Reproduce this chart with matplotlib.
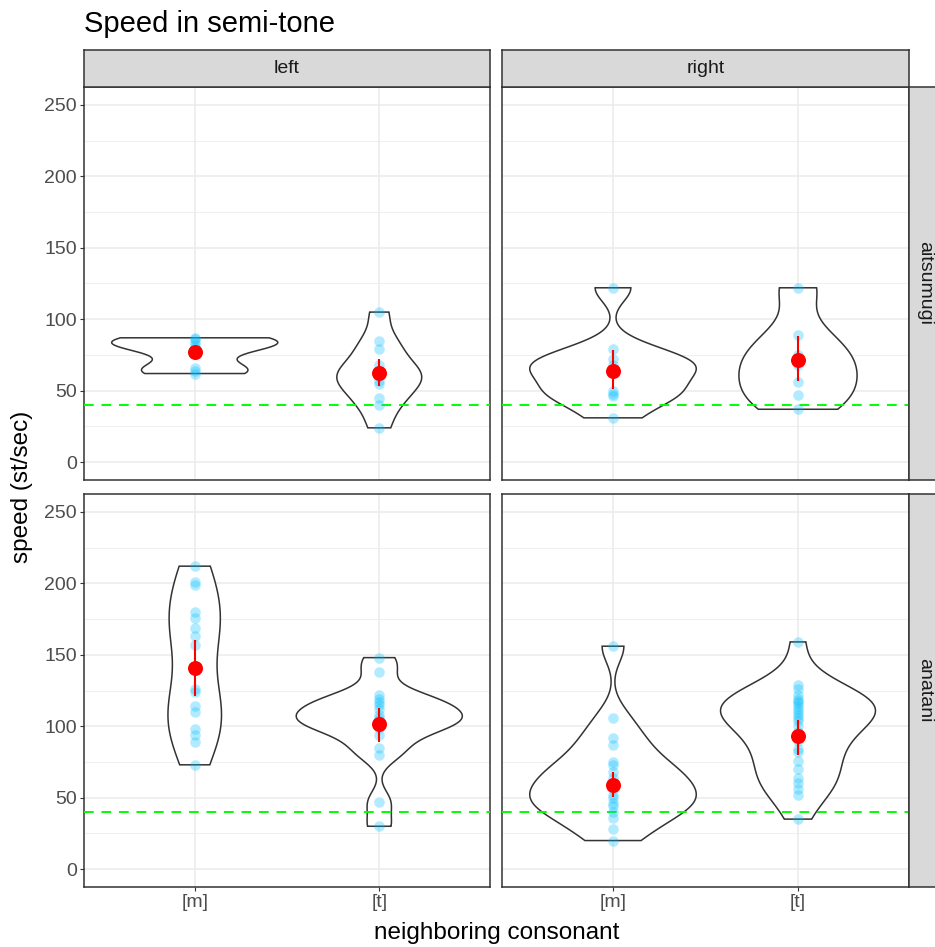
import numpy as np
import matplotlib
matplotlib.use("Agg")
import matplotlib.pyplot as plt

plt.rcParams["font.family"] = ["Liberation Sans", "DejaVu Sans"]

# ── Dati (st/sec) ─────────────────────────────────────────────────────────────
CONSONANTS = ["[m]", "[t]"]
SIDES = ["left", "right"]
WORDS = ["aitsumugi", "anatani"]

AITSUMUGI_LEFT_M  = [87, 86, 84, 82, 80, 66, 64, 62]
AITSUMUGI_LEFT_T  = [105, 85, 79, 68, 64, 60, 57, 55, 45, 40, 24]
AITSUMUGI_RIGHT_M = [122, 79, 72, 68, 65, 63, 50, 48, 46, 31]
AITSUMUGI_RIGHT_T = [122, 89, 75, 68, 56, 47, 37]
ANATANI_LEFT_M  = [212, 201, 199, 180, 176, 169, 163, 157, 126, 124, 114,
                   110, 98, 94, 89, 73]
ANATANI_LEFT_T  = [148, 138, 122, 119, 117, 115, 112, 108, 106, 104, 103,
                   101, 99, 94, 85, 80, 47, 30]
ANATANI_RIGHT_M = [156, 106, 92, 87, 75, 73, 68, 64, 60, 56, 52, 50, 46, 44,
                   40, 36, 28, 20]
ANATANI_RIGHT_T = [159, 129, 126, 122, 119, 118, 116, 114, 112, 110, 108, 106,
                   104, 100, 96, 90, 84, 82, 76, 70, 64, 60, 56, 52, 35]

# media e intervallo (punti rossi), ordine: left [m], left [t], right [m], right [t]
MEAN_AITSUMUGI = [76.8, 62.1, 63.9, 71.6]
LOW_AITSUMUGI  = [73.0, 53.5, 51.1, 57.0]
HIGH_AITSUMUGI = [81.0, 72.0, 78.6, 88.3]
MEAN_ANATANI = [140.7, 101.6, 58.8, 93.0]
LOW_ANATANI  = [120.9, 89.1, 50.7, 80.2]
HIGH_ANATANI = [160.5, 112.8, 67.9, 104.7]

THRESHOLD = 40

DATA = {
    ("aitsumugi", "left"):  [AITSUMUGI_LEFT_M, AITSUMUGI_LEFT_T],
    ("aitsumugi", "right"): [AITSUMUGI_RIGHT_M, AITSUMUGI_RIGHT_T],
    ("anatani", "left"):    [ANATANI_LEFT_M, ANATANI_LEFT_T],
    ("anatani", "right"):   [ANATANI_RIGHT_M, ANATANI_RIGHT_T],
}
SUMMARY = {
    "aitsumugi": (MEAN_AITSUMUGI, LOW_AITSUMUGI, HIGH_AITSUMUGI),
    "anatani":   (MEAN_ANATANI, LOW_ANATANI, HIGH_ANATANI),
}

# ── Stile ─────────────────────────────────────────────────────────────────────
C_BORDER = "#333333"
C_GRID   = "#EBEBEB"
C_STRIP  = "#D9D9D9"
C_TEXT   = "#4D4D4D"
C_POINT  = "#00BFFF"
FS_TICK  = 14
FS_AXIS  = 17.5
FS_TITLE = 21

W, H = 935, 947
COLS = [(84, 490), (502, 909)]
ROWS = [(87, 480), (494, 887)]
STRIP_R = 941


def rect(left, top, right, bottom):
    return [left / W, 1 - bottom / H, (right - left) / W, (bottom - top) / H]


def bw_nrd0(x):
    sd = x.std(ddof=1)
    q75, q25 = np.percentile(x, [75, 25])
    lo = min(sd, (q75 - q25) / 1.34)
    if lo == 0:
        lo = sd
    return 0.9 * lo * len(x) ** -0.2


def kde(x, grid):
    bw = bw_nrd0(x)
    z = (grid[:, None] - x[None, :]) / bw
    return np.exp(-0.5 * z ** 2).sum(axis=1) / (len(x) * bw * np.sqrt(2 * np.pi))


def strip(rect_px, label, rotation=0):
    sax = fig.add_axes(rect(*rect_px))
    sax.set_xticks([]); sax.set_yticks([])
    sax.set_facecolor(C_STRIP)
    for sp in sax.spines.values():
        sp.set_color(C_BORDER); sp.set_linewidth(1.1)
    left, top, right, bottom = rect_px
    # testo centrato sulla parte visibile
    xc = 0.5 if rotation == 0 else (925 - left) / (right - left)
    sax.text(xc, 0.5, label, ha="center", va="center", fontsize=FS_TICK,
             rotation=rotation, color="#1A1A1A", transform=sax.transAxes)


fig = plt.figure(figsize=(W / 100, H / 100), dpi=100, facecolor="white")

for r, word in enumerate(WORDS):
    means, lows, highs = SUMMARY[word]
    for c, side in enumerate(SIDES):
        (x0, x1), (y0, y1) = COLS[c], ROWS[r]
        ax = fig.add_axes(rect(x0, y0, x1, y1))
        ax.set_xlim(0.4, 2.6)
        ax.set_ylim(-12.5, 262.5)

        groups = [np.asarray(g, float) for g in DATA[(word, side)]]
        grids = [np.linspace(g.min(), g.max(), 512) for g in groups]
        dens = [kde(g, gr) for g, gr in zip(groups, grids)]
        dmax = max(d.max() for d in dens)

        for i, (g, gr, d) in enumerate(zip(groups, grids, dens)):
            pos = i + 1
            hw = d / dmax * 0.45
            xs = np.concatenate([pos - hw, (pos + hw)[::-1]])
            ys = np.concatenate([gr, gr[::-1]])
            ax.fill(xs, ys, facecolor="white", edgecolor=C_BORDER, lw=1.1, zorder=2)
            ax.scatter(np.full(len(g), pos), g, s=58, color=C_POINT, alpha=0.3,
                       linewidths=0, zorder=4)

        ax.axhline(THRESHOLD, color="#00FF00", lw=1.4, ls=(0, (5, 4)), zorder=3)

        idx = [2 * c, 2 * c + 1]
        pos = np.array([1, 2])
        ax.vlines(pos, [lows[k] for k in idx], [highs[k] for k in idx],
                  color="red", lw=1.5, zorder=5)
        ax.plot(pos, [means[k] for k in idx], "o", color="red", ms=10.8,
                mec="none", zorder=6)

        # griglia
        ax.set_yticks([0, 50, 100, 150, 200, 250])
        ax.set_yticks([25, 75, 125, 175, 225], minor=True)
        ax.set_xticks([1, 2])
        ax.set_axisbelow(True)
        ax.grid(which="major", color=C_GRID, lw=1.1)
        ax.grid(which="minor", axis="y", color=C_GRID, lw=0.55)
        for sp in ax.spines.values():
            sp.set_color(C_BORDER)
            sp.set_linewidth(1.1)

        ax.tick_params(which="minor", length=0)
        ax.tick_params(which="major", length=2.9, width=0.8, color=C_BORDER,
                       labelsize=FS_TICK, labelcolor=C_TEXT, pad=2.2)
        if c == 0:
            ax.set_yticklabels(["0", "50", "100", "150", "200", "250"])
        else:
            ax.tick_params(axis="y", length=0, labelleft=False)
        if r == 1:
            ax.set_xticklabels(CONSONANTS)
        else:
            ax.tick_params(axis="x", length=0, labelbottom=False)

        if r == 0:
            strip((x0, 50, x1, y0), side)
        if c == 1:
            strip((x1, y0, STRIP_R, y1), word, rotation=270)

fig.text(84 / W, 1 - 32 / H, "Speed in semi-tone", fontsize=FS_TITLE,
         ha="left", va="baseline", color="black")
fig.text(22 / W, 1 - 487 / H, "speed (st/sec)", fontsize=FS_AXIS, rotation=90,
         ha="center", va="center", color="black")
fig.text(497 / W, 1 - 933 / H, "neighboring consonant", fontsize=FS_AXIS,
         ha="center", va="center", color="black")

fig.savefig("out.png", dpi=100, facecolor="white")
